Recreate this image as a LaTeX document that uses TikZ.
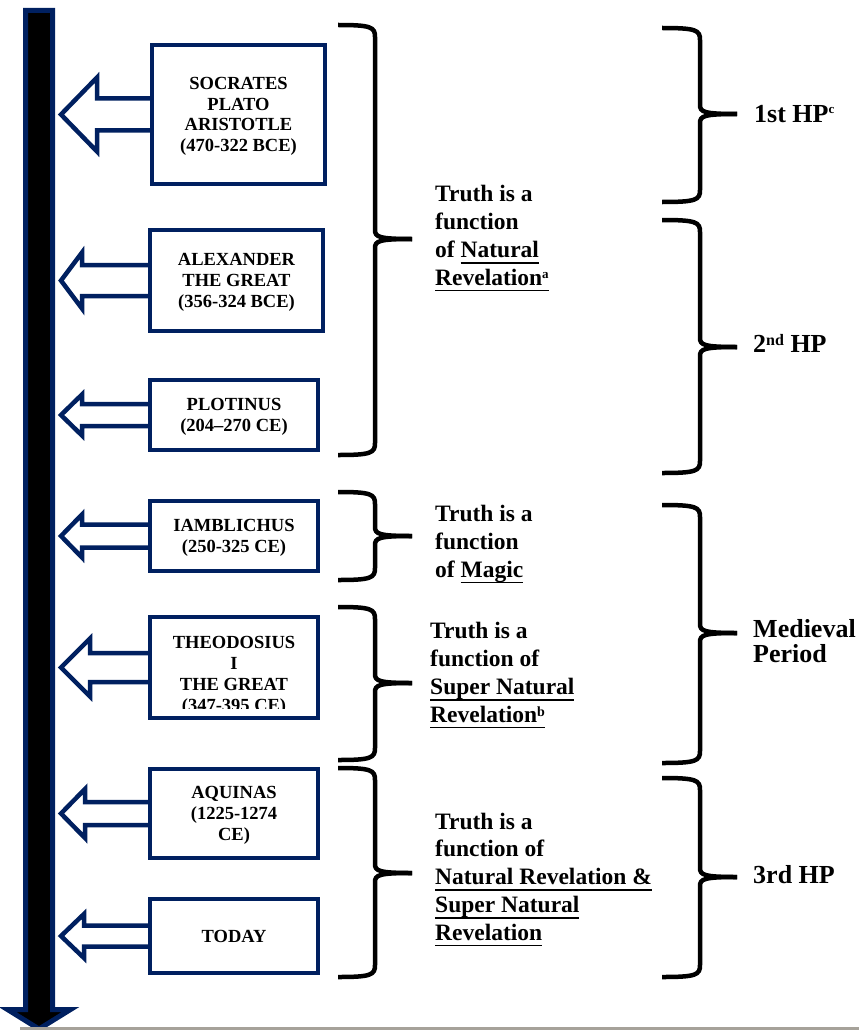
\documentclass[tikz,border=0pt]{standalone}
\usepackage{fontspec}
\setmainfont{Liberation Serif}
\usetikzlibrary{calc}

\definecolor{navy}{HTML}{002060}
\definecolor{rulegray}{HTML}{A6A29A}

% underline at a fixed depth
\newcommand{\uln}[1]{\setbox0\hbox{#1}\rlap{\rule[-6.3pt]{\wd0}{1.8pt}}\box0}
% small raised text: size, raise, text
\newcommand{\sups}[3]{\raisebox{#2pt}{\fontsize{#1}{#1}\selectfont #3}}

% hollow arrow from a box to the time line
\newcommand{\timearrow}[4]{% box, head x, head half, shaft half
  \draw[hollow] let \p1=(#1.west), \p2=(tl) in
    (\x1,\y1+#4) -- (#2pt,\y1+#4) -- (#2pt,\y1+#3) -- (\x2,\y1)
    -- (#2pt,\y1-#3) -- (#2pt,\y1-#4) -- (\x1,\y1-#4);}

% curly brace opening to the right
\newcommand{\drawbrace}[6]{% left x, spine x, tip x, top y, tip y, bottom y
  \draw[brace] (#1,#4) .. controls (#2-4,#4) and (#2,#4+2) .. (#2,#4+12)
    -- (#2,#5-9) .. controls (#2,#5-2) and (#2+4,#5) .. (#3,#5);
  \draw[brace] (#3,#5) .. controls (#2+4,#5) and (#2,#5+2) .. (#2,#5+9)
    -- (#2,#6-12) .. controls (#2,#6-2) and (#2-4,#6) .. (#1,#6);}

\begin{document}
\begin{tikzpicture}[x=1pt,y=-1pt,
    card/.style={draw=navy, line width=4.5, fill=white, align=center, inner sep=0,
      text depth=-6pt, font=\fontsize{18.5}{20.7}\selectfont\bfseries},
    hollow/.style={draw=navy, line width=4.5},
    brace/.style={draw=black, line width=4.5},
    truth/.style={anchor=base west, align=left, inner sep=0,
      font=\fontsize{23.5}{27.7}\selectfont\bfseries},
    period/.style={anchor=base west, align=left, inner sep=0,
      font=\fontsize{26}{25}\selectfont\bfseries}]
  \useasboundingbox (0,0) rectangle (859,1030);

  % time line
  \draw[navy, line width=5, fill=black] (25.5,10.5) -- (52.5,10.5) -- (52.5,1009.5)
    -- (70.5,1009.5) -- (39,1029) -- (7.5,1009.5) -- (25.5,1009.5) -- cycle;
  \coordinate (tl) at (61,0);

  % boxes
  \node[card, minimum width=173, minimum height=139] (socrates) at (238.5,114.5)
    {SOCRATES\\PLATO\\ARISTOTLE\\(470-322 BCE)};
  \node[card, minimum width=173, minimum height=101] (alexander) at (236.5,280.5)
    {ALEXANDER\\THE GREAT\\(356-324 BCE)};
  \node[card, minimum width=168, minimum height=70] (plotinus) at (234,415)
    {PLOTINUS\\(204--270 CE)};
  \node[card, minimum width=168, minimum height=70] (iamblichus) at (234,536)
    {IAMBLICHUS\\(250-325 CE)};
  \node[card, minimum width=168, minimum height=101] (theodosius) at (234,667.5) {};
  \begin{scope}
    \clip (150,617) rectangle (318,708.5);
    \node[card, draw=none, fill=none, text depth=3pt, anchor=base] (theotext) at (234,711)
      {THEODOSIUS\\I\\THE GREAT\\(347-395 CE)};
  \end{scope}
  \node[card, minimum width=168, minimum height=89] (aquinas) at (234,813.5)
    {AQUINAS\\(1225-1274\\CE)};
  \node[card, minimum width=168, minimum height=74] (today) at (234,936) {TODAY};

  % arrows to the time line
  \timearrow{socrates}{97}{37}{16}
  \timearrow{alexander}{82}{28}{15.5}
  \timearrow{plotinus}{82}{20.5}{11}
  \timearrow{iamblichus}{82}{21.5}{11.5}
  \timearrow{theodosius}{90}{29}{14.5}
  \timearrow{aquinas}{85}{24.5}{11.5}
  \timearrow{today}{84}{22}{10.5}

  % braces
  \drawbrace{338}{375}{412}{25}{239}{455}
  \drawbrace{338}{375}{412}{492}{536}{580}
  \drawbrace{338}{375}{412}{607}{683}{760}
  \drawbrace{338}{375}{412}{768}{873}{977}
  \drawbrace{662}{700}{737}{28}{114}{202}
  \drawbrace{662}{700}{737}{220}{347}{473}
  \drawbrace{662}{700}{737}{505}{633}{763}
  \drawbrace{662}{700}{737}{778}{877}{977}

  % truth labels
  \node[truth] (natural) at (435,285)
    {Truth is a\\function\\of \uln{Natural}\\\uln{Revelation\sups{13}{7}{a}}};
  \node[truth] (magic) at (435,577) {Truth is a\\function\\of \uln{Magic}};
  \node[truth] (super) at (430,722)
    {Truth is a\\function of\\\uln{Super Natural}\\\uln{Revelation\sups{14}{6}{b}}};
  \node[truth] (both) at (435,940)
    {Truth is a\\function of\\\uln{Natural Revelation \&}\\\uln{Super Natural}\\\uln{Revelation}};

  % periods
  \node[period] (hp1) at (754,122) {1st HP\sups{13}{9}{c}};
  \node[period] (hp2) at (753,352) {2\sups{16}{7}{nd} HP};
  \node[period] (medieval) at (753,662) {Medieval\\Period};
  \node[period] (hp3) at (753,883) {3rd HP};

  % page rule
  \fill[rulegray] (20,1027) rectangle (859,1030);
\end{tikzpicture}
\end{document}
